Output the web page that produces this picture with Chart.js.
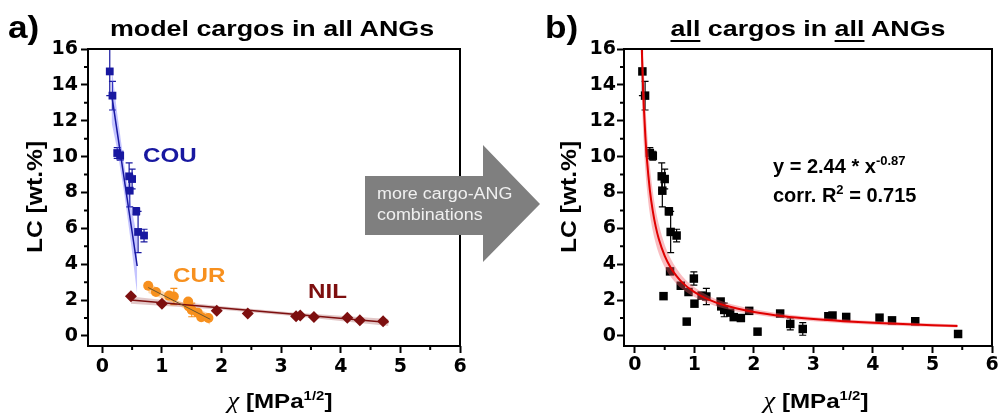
<!DOCTYPE html>
<html>
<head>
<meta charset="utf-8">
<script src="https://cdn.jsdelivr.net/npm/chart.js@4.4.1/dist/chart.umd.min.js"></script>
<style>
  body { margin: 0; width: 998px; height: 413px; overflow: hidden; background: #fff; position: relative; font-family: "Liberation Sans", Arial, sans-serif; }
  canvas { position: absolute; top: 0; }
  .t { position: absolute; white-space: nowrap; line-height: 1; font-weight: bold; color: #000; }
  .sup { font-size: 13px; position: relative; top: -8px; }
  .chi { font-family: "Liberation Serif", serif; font-style: italic; font-weight: normal; font-size: 23px; }
  u { text-decoration-thickness: 2px; text-underline-offset: 4px; }
</style>
</head>
<body>
<canvas id="chartA" width="470" height="413" style="left:0"></canvas>
<canvas id="chartB" width="478" height="413" style="left:520px"></canvas>

<svg width="998" height="413" style="position:absolute;left:0;top:0">
  <polygon points="365,176 483,176 483,145 540,204 483,262 483,235 365,235" fill="#7f7f7f"/>
</svg>

<div class="t" style="left:8px;top:11px;font-size:32px;transform-origin:0 0;transform:scaleX(1.1)">a)</div>
<div class="t" style="left:545px;top:11px;font-size:32px;transform-origin:0 0;transform:scaleX(1.1)">b)</div>
<div class="t" style="left:272px;top:18px;font-size:22px;transform:translateX(-50%) scaleX(1.22)">model cargos in all ANGs</div>
<div class="t" style="left:808px;top:18px;font-size:22px;transform:translateX(-50%) scaleX(1.22)"><u>all</u> cargos in <u>all</u> ANGs</div>

<div class="t" style="left:35px;top:197px;font-size:22px;transform-origin:0 0;transform:rotate(-90deg) scaleX(1.12) translate(-50%,-50%)">LC [wt.%]</div>
<div class="t" style="left:569px;top:197px;font-size:22px;transform-origin:0 0;transform:rotate(-90deg) scaleX(1.12) translate(-50%,-50%)">LC [wt.%]</div>

<div class="t" style="left:280px;top:389px;font-size:21px;transform:translateX(-50%) scaleX(1.15)"><span class="chi">χ</span> [MPa<span class="sup">1/2</span>]</div>
<div class="t" style="left:816px;top:389px;font-size:21px;transform:translateX(-50%) scaleX(1.15)"><span class="chi">χ</span> [MPa<span class="sup">1/2</span>]</div>

<div class="t" style="left:143px;top:144px;font-size:21px;color:#1818a0;transform-origin:0 0;transform:scaleX(1.15)">COU</div>
<div class="t" style="left:173px;top:264px;font-size:21px;color:#f7901e;transform-origin:0 0;transform:scaleX(1.15)">CUR</div>
<div class="t" style="left:308px;top:280px;font-size:21px;color:#7d0f0f;transform-origin:0 0;transform:scaleX(1.15)">NIL</div>

<div class="t" style="left:773px;top:156px;font-size:20px">y = 2.44 * x<span class="sup">-0.87</span></div>
<div class="t" style="left:773px;top:185px;font-size:20px">corr. R<span class="sup">2</span> = 0.715</div>

<div class="t" style="left:377px;top:186px;font-size:16px;font-weight:normal;color:#f0f0f0;transform-origin:0 0;transform:scaleX(1.12)">more cargo-ANG</div>
<div class="t" style="left:377px;top:207px;font-size:16px;font-weight:normal;color:#f0f0f0;transform-origin:0 0;transform:scaleX(1.12)">combinations</div>

<script>
const xTicks = [0, 1, 2, 3, 4, 5, 6];
const yTicks = [0, 2, 4, 6, 8, 10, 12, 14, 16];
const xMinor = [0.5, 1.5, 2.5, 3.5, 4.5, 5.5];
const yMinor = [1, 3, 5, 7, 9, 11, 13, 15];

// COU data
const couX = [0.125, 0.17, 0.25, 0.30, 0.45, 0.50, 0.46, 0.57, 0.60, 0.70];
const couY = [14.75, 13.4, 10.2, 10.05, 8.9, 8.75, 8.1, 6.95, 5.8, 5.6];
const couErr = [1.35, 0.8, 0.3, 0.25, 0.75, 0.55, 0.9, 0.2, 1.15, 0.35];

// CUR data
const curX = [0.77, 0.90, 1.12, 1.20, 1.44, 1.45, 1.50, 1.60, 1.66, 1.78];
const curY = [2.8, 2.45, 2.25, 2.2, 1.92, 1.65, 1.45, 1.3, 1.05, 1.0];
const curErr = [0, 0, 0, 0.45, 0, 0, 0.38, 0, 0, 0];

// NIL data
const nilX = [0.48, 1.0, 1.92, 2.44, 3.25, 3.32, 3.55, 4.11, 4.32, 4.71];
const nilY = [2.22, 1.8, 1.4, 1.25, 1.1, 1.14, 1.06, 1.02, 0.87, 0.82];

// other cargos, only in panel b
const otherX = [0.59, 0.87, 0.99, 2.06, 2.61, 2.82, 5.43];
const otherY = [3.6, 0.8, 3.2, 0.24, 0.67, 0.39, 0.11];
const otherErr = [0, 0, 0.37, 0, 0.33, 0.35, 0];

// linear fits + confidence bands (panel a)
const couFitX = [0.155, 0.585];
const couFitY = [13.5, 3.9];
const couBandX = [0.155, 0.25, 0.37, 0.48, 0.585];
const couBandLo = [11.9, 10.4, 7.9, 5.2, 2.3];
const couBandHi = [15.1, 12.4, 9.5, 7.3, 5.5];

const curFitX = [0.77, 1.81];
const curFitY = [2.7, 0.93];
const curBandX = [0.77, 1.29, 1.81];
const curBandLo = [2.4, 1.7, 0.63];
const curBandHi = [3.0, 1.94, 1.23];

const nilFitX = [0.48, 4.8];
const nilFitY = [2.0, 0.75];
const nilBandX = [0.48, 2.0, 3.2, 4.8];
const nilBandLo = [1.8, 1.46, 1.11, 0.55];
const nilBandHi = [2.2, 1.66, 1.31, 0.95];

// power fit y = 2.44 * x^-0.87 (panel b)
const powX = [0.115, 0.13, 0.15, 0.175, 0.2, 0.25, 0.3, 0.35, 0.4, 0.5, 0.6, 0.7, 0.8, 1.0, 1.25, 1.5, 2.0, 2.5, 3.0, 3.5, 4.0, 4.5, 5.0, 5.42];
const powY = [16.02, 14.40, 12.71, 11.12, 9.90, 8.15, 6.96, 6.08, 5.42, 4.46, 3.81, 3.33, 2.96, 2.44, 2.01, 1.71, 1.34, 1.10, 0.94, 0.82, 0.73, 0.66, 0.60, 0.56];
const powLo = [13.3, 11.95, 10.55, 9.23, 8.22, 6.8, 5.85, 5.14, 4.6, 3.83, 3.3, 2.9, 2.6, 2.17, 1.8, 1.53, 1.19, 0.97, 0.82, 0.71, 0.63, 0.56, 0.51, 0.47];
const powHi = [18.7, 16.85, 14.87, 13.01, 11.58, 9.5, 8.07, 7.02, 6.24, 5.09, 4.32, 3.76, 3.32, 2.71, 2.22, 1.89, 1.49, 1.23, 1.06, 0.93, 0.83, 0.76, 0.69, 0.65];

const pts = (xs, ys) => xs.map((x, i) => ({ x: x, y: ys[i] }));

// error bars drawn under the markers
const errorBars = {
  id: 'errorBars',
  beforeDatasetsDraw(chart) {
    const { ctx, chartArea: a, scales: { y } } = chart;
    ctx.save();
    ctx.beginPath();
    ctx.rect(a.left, a.top, a.right - a.left, a.bottom - a.top);
    ctx.clip();
    chart.data.datasets.forEach((ds, i) => {
      if (!ds.errors) return;
      const meta = chart.getDatasetMeta(i);
      ctx.strokeStyle = ds.errorColor;
      ctx.lineWidth = 1.2;
      ctx.beginPath();
      meta.data.forEach((pt, j) => {
        const e = ds.errors[j];
        if (!e) return;
        const top = y.getPixelForValue(ds.data[j].y + e);
        const bot = y.getPixelForValue(ds.data[j].y - e);
        ctx.moveTo(pt.x, top); ctx.lineTo(pt.x, bot);
        ctx.moveTo(pt.x - 3.5, top); ctx.lineTo(pt.x + 3.5, top);
        ctx.moveTo(pt.x - 3.5, bot); ctx.lineTo(pt.x + 3.5, bot);
      });
      ctx.stroke();
    });
    ctx.restore();
  }
};

// box frame and minor ticks
const frame = {
  id: 'frame',
  afterDraw(chart) {
    const { ctx, chartArea: a, scales: { x, y } } = chart;
    ctx.save();
    ctx.strokeStyle = '#000';
    ctx.lineWidth = 2;
    ctx.strokeRect(a.left, a.top, a.right - a.left, a.bottom - a.top);
    ctx.beginPath();
    xMinor.forEach(v => {
      const px = x.getPixelForValue(v);
      ctx.moveTo(px, a.bottom); ctx.lineTo(px, a.bottom + 4);
    });
    yMinor.forEach(v => {
      const py = y.getPixelForValue(v);
      ctx.moveTo(a.left, py); ctx.lineTo(a.left - 4, py);
    });
    ctx.stroke();
    ctx.restore();
  }
};

function makeScales(yWidth, xMin, tickPad) {
  const grid = { drawOnChartArea: false, drawTicks: true, tickLength: 7, tickWidth: 2, tickColor: '#000' };
  const ticks = { color: '#000', font: { family: 'DejaVu Sans', weight: 'bold', size: 19 }, padding: tickPad, autoSkip: false, maxRotation: 0 };
  return {
    x: {
      type: 'linear', min: xMin, max: 6, border: { display: false }, grid: grid, ticks: ticks,
      afterBuildTicks: s => { s.ticks = xTicks.map(v => ({ value: v })); },
      afterFit: s => { s.height = 67; s.paddingLeft = 0; s.paddingRight = 0; }
    },
    y: {
      type: 'linear', min: -0.56, max: 16, border: { display: false }, grid: grid, ticks: ticks,
      afterBuildTicks: s => { s.ticks = yTicks.map(v => ({ value: v })); },
      afterFit: s => { s.width = yWidth; s.paddingTop = 0; s.paddingBottom = 0; }
    }
  };
}

function lineSet(xs, ys, color, width) {
  return { data: pts(xs, ys), showLine: true, borderColor: color, borderWidth: width, pointRadius: 0, fill: false };
}
function bandSets(xs, lo, hi, color) {
  return [
    { data: pts(xs, lo), showLine: true, borderWidth: 0, borderColor: 'rgba(0,0,0,0)', pointRadius: 0, fill: false },
    { data: pts(xs, hi), showLine: true, borderWidth: 0, borderColor: 'rgba(0,0,0,0)', pointRadius: 0, fill: '-1', backgroundColor: color }
  ];
}

const commonOpts = {
  responsive: false,
  animation: false,
  events: [],
  plugins: { legend: { display: false }, tooltip: { enabled: false } }
};

new Chart(document.getElementById('chartA'), {
  type: 'scatter',
  data: {
    datasets: [
      lineSet(couFitX, couFitY, '#1818a0', 1.5),
      lineSet(curFitX, curFitY, '#6a5530', 1),
      lineSet(nilFitX, nilFitY, '#7d0f0f', 1.5),
      { data: pts(couX, couY), errors: couErr, errorColor: '#1818a0', pointStyle: 'rect', pointRadius: 5.5, backgroundColor: '#1818a0', borderColor: '#1818a0', borderWidth: 0 },
      { data: pts(curX, curY), errors: curErr, errorColor: '#f7901e', pointStyle: 'circle', pointRadius: 5, backgroundColor: '#f7901e', borderColor: '#f7901e', borderWidth: 0 },
      { data: pts(nilX, nilY), pointStyle: 'rectRot', pointRadius: 6, backgroundColor: '#7d0f0f', borderColor: '#7d0f0f', borderWidth: 0 },
      ...bandSets(couBandX, couBandLo, couBandHi, 'rgba(100,100,255,0.38)'),
      ...bandSets(curBandX, curBandLo, curBandHi, 'rgba(255,175,90,0.5)'),
      ...bandSets(nilBandX, nilBandLo, nilBandHi, 'rgba(160,70,70,0.3)')
    ]
  },
  options: Object.assign({}, commonOpts, {
    layout: { padding: { top: 49, right: 10, left: 0, bottom: 0 } },
    scales: makeScales(88, -0.24, 3)
  }),
  plugins: [errorBars, frame]
});

const allX = [...couX, ...curX, ...nilX, ...otherX];
const allY = [...couY, ...curY, ...nilY, ...otherY];
const allErr = [...couErr, ...curErr, ...nilX.map(() => 0), ...otherErr];

new Chart(document.getElementById('chartB'), {
  type: 'scatter',
  data: {
    datasets: [
      Object.assign(lineSet(powX, powY, '#e00000', 2), { cubicInterpolationMode: 'monotone' }),
      ...bandSets(powX, powLo, powHi, 'rgba(240,90,100,0.4)').map(d => Object.assign(d, { cubicInterpolationMode: 'monotone' })),
      { data: pts(allX, allY), errors: allErr, errorColor: '#000', pointStyle: 'rect', pointRadius: 6, backgroundColor: '#000', borderColor: '#000', borderWidth: 0 }
    ]
  },
  options: Object.assign({}, commonOpts, {
    layout: { padding: { top: 49, right: 5, left: 0, bottom: 0 } },
    scales: makeScales(104, -0.184, 1)
  }),
  plugins: [errorBars, frame]
});
</script>
</body>
</html>
